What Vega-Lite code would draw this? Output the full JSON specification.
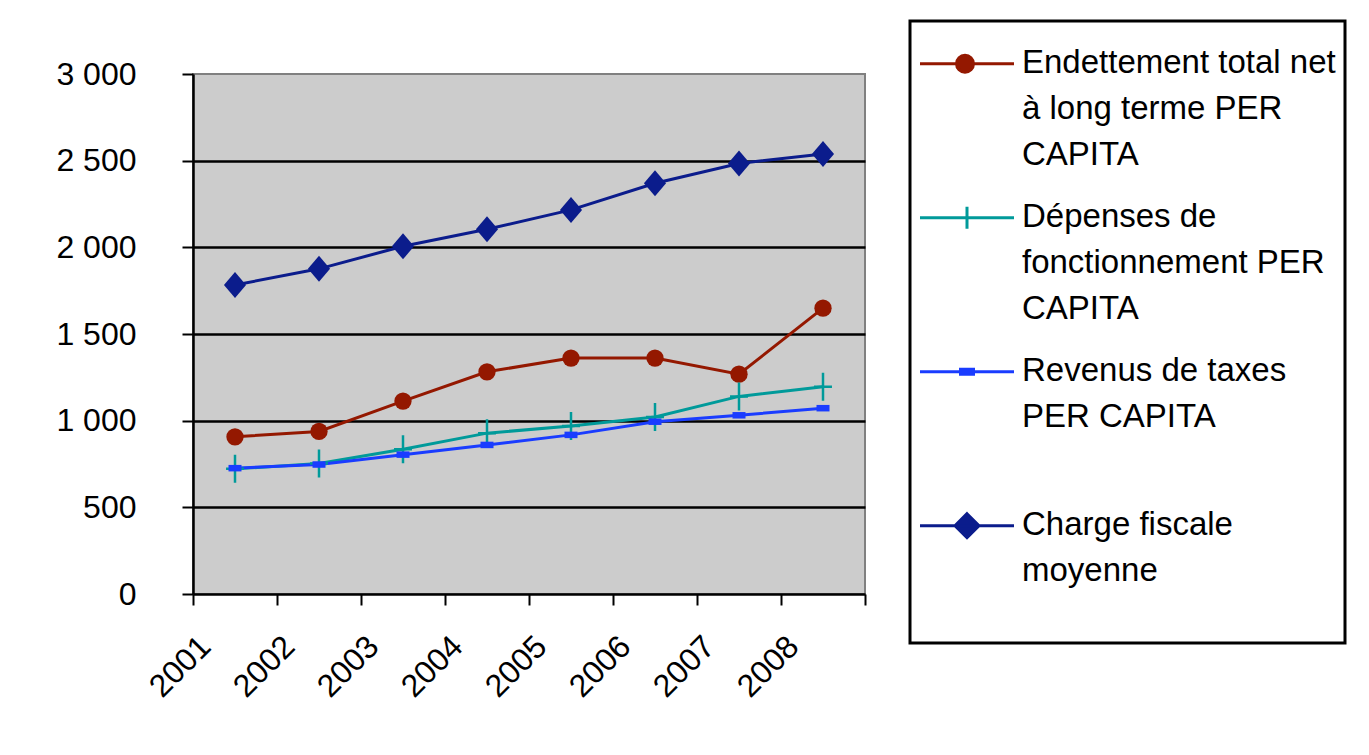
{
  "$schema": "https://vega.github.io/schema/vega-lite/v6.json",
  "width": 672,
  "height": 520,
  "autosize": "none",
  "padding": {"left": 193, "top": 74, "right": 504, "bottom": 161},
  "background": "white",
  "config": {
    "font": "Liberation Sans",
    "view": {"fill": "#cccccc", "stroke": "#808080", "strokeWidth": 2}
  },
  "data": {
    "values": [
      {"year": "2001", "series": "Endettement total net à long terme PER CAPITA", "value": 907},
      {"year": "2002", "series": "Endettement total net à long terme PER CAPITA", "value": 938},
      {"year": "2003", "series": "Endettement total net à long terme PER CAPITA", "value": 1113},
      {"year": "2004", "series": "Endettement total net à long terme PER CAPITA", "value": 1282},
      {"year": "2005", "series": "Endettement total net à long terme PER CAPITA", "value": 1361},
      {"year": "2006", "series": "Endettement total net à long terme PER CAPITA", "value": 1361},
      {"year": "2007", "series": "Endettement total net à long terme PER CAPITA", "value": 1268},
      {"year": "2008", "series": "Endettement total net à long terme PER CAPITA", "value": 1649},
      {"year": "2001", "series": "Dépenses de fonctionnement PER CAPITA", "value": 722},
      {"year": "2002", "series": "Dépenses de fonctionnement PER CAPITA", "value": 753},
      {"year": "2003", "series": "Dépenses de fonctionnement PER CAPITA", "value": 835},
      {"year": "2004", "series": "Dépenses de fonctionnement PER CAPITA", "value": 928},
      {"year": "2005", "series": "Dépenses de fonctionnement PER CAPITA", "value": 969},
      {"year": "2006", "series": "Dépenses de fonctionnement PER CAPITA", "value": 1021},
      {"year": "2007", "series": "Dépenses de fonctionnement PER CAPITA", "value": 1140},
      {"year": "2008", "series": "Dépenses de fonctionnement PER CAPITA", "value": 1196},
      {"year": "2001", "series": "Revenus de taxes PER CAPITA", "value": 726},
      {"year": "2002", "series": "Revenus de taxes PER CAPITA", "value": 747},
      {"year": "2003", "series": "Revenus de taxes PER CAPITA", "value": 804},
      {"year": "2004", "series": "Revenus de taxes PER CAPITA", "value": 860},
      {"year": "2005", "series": "Revenus de taxes PER CAPITA", "value": 918},
      {"year": "2006", "series": "Revenus de taxes PER CAPITA", "value": 994},
      {"year": "2007", "series": "Revenus de taxes PER CAPITA", "value": 1031},
      {"year": "2008", "series": "Revenus de taxes PER CAPITA", "value": 1072},
      {"year": "2001", "series": "Charge fiscale moyenne", "value": 1783},
      {"year": "2002", "series": "Charge fiscale moyenne", "value": 1876},
      {"year": "2003", "series": "Charge fiscale moyenne", "value": 2006},
      {"year": "2004", "series": "Charge fiscale moyenne", "value": 2104},
      {"year": "2005", "series": "Charge fiscale moyenne", "value": 2216},
      {"year": "2006", "series": "Charge fiscale moyenne", "value": 2370},
      {"year": "2007", "series": "Charge fiscale moyenne", "value": 2484},
      {"year": "2008", "series": "Charge fiscale moyenne", "value": 2539}
    ]
  },
  "encoding": {
    "x": {
      "field": "year",
      "type": "ordinal",
      "scale": {"type": "band", "paddingInner": 0, "paddingOuter": 0},
      "axis": {
        "title": null,
        "labelAngle": -45,
        "labelAlign": "right",
        "labelBaseline": "middle",
        "labelFont": "Liberation Sans",
        "labelFontSize": 32,
        "labelColor": "black",
        "labelPadding": 36,
        "labelOffset": -30,
        "tickBand": "extent",
        "tickSize": 11,
        "tickColor": "black",
        "tickWidth": 2,
        "domainColor": "black",
        "domainWidth": 2.5,
        "grid": false
      }
    },
    "y": {
      "field": "value",
      "type": "quantitative",
      "scale": {"domain": [0, 3000], "nice": false},
      "axis": {
        "title": null,
        "values": [0, 500, 1000, 1500, 2000, 2500, 3000],
        "labelExpr": "replace(format(datum.value, ','), ',', ' ')",
        "labelFont": "Liberation Sans",
        "labelFontSize": 32,
        "labelColor": "black",
        "labelPadding": 46,
        "tickSize": 11,
        "tickColor": "black",
        "tickWidth": 2,
        "domainColor": "black",
        "domainWidth": 2.5,
        "grid": true,
        "gridColor": {"condition": {"test": "datum.value >= 3000 || datum.value <= 0", "value": "transparent"}, "value": "black"},
        "gridWidth": 2.5
      }
    },
    "color": {
      "field": "series",
      "type": "nominal",
      "sort": ["Endettement total net à long terme PER CAPITA", "Dépenses de fonctionnement PER CAPITA", "Revenus de taxes PER CAPITA", "Charge fiscale moyenne"],
      "scale": {
        "domain": ["Endettement total net à long terme PER CAPITA", "Dépenses de fonctionnement PER CAPITA", "Revenus de taxes PER CAPITA", "Charge fiscale moyenne"],
        "range": ["#941800", "#009a9a", "#1a3cff", "#0b1c8c"]
      },
      "legend": {
        "orient": "none",
        "legendX": 717,
        "legendY": -53,
        "title": null,
        "fillColor": "white",
        "strokeColor": "black",
        "padding": 9,
        "symbolSize": 16,
        "symbolOffset": 31.5,
        "symbolStrokeWidth": 3,
        "labelFont": "Liberation Sans",
        "labelFontSize": 33,
        "labelColor": "black",
        "labelLimit": 500,
        "labelOffset": 38.5,
        "labelBaseline": "top",
        "rowPadding": 12,
        "labelExpr": "datum.value == 'Endettement total net à long terme PER CAPITA' ? ['Endettement total net', 'à long terme PER', 'CAPITA'] : datum.value == 'Dépenses de fonctionnement PER CAPITA' ? ['Dépenses de', 'fonctionnement PER', 'CAPITA'] : datum.value == 'Revenus de taxes PER CAPITA' ? ['Revenus de taxes', 'PER CAPITA', ''] : ['Charge fiscale', 'moyenne', '']",
        "encode": {
          "legend": {"update": {"strokeWidth": {"value": 3}}},
          "labels": {"update": {"lineHeight": {"value": 46}}},
          "symbols": {
            "update": {
              "shape": {"signal": "datum.value == 'Endettement total net à long terme PER CAPITA' ? 'M-23.5,8.6H23.5M-5.25,8.6A4.25,4.25 0 1,0 3.25,8.6A4.25,4.25 0 1,0 -5.25,8.6Z' : datum.value == 'Dépenses de fonctionnement PER CAPITA' ? 'M-23.5,8.6H23.5M0,3.1V14.1' : datum.value == 'Revenus de taxes PER CAPITA' ? 'M-23.5,8.6H23.5M-3.25,7.35H3.25V9.85H-3.25Z' : 'M-23.5,8.6H23.5M0,2.6L6,8.6L0,14.6L-6,8.6Z'"},
              "size": {"value": 16},
              "fill": {"signal": "scale('color', datum.value)"},
              "stroke": {"signal": "scale('color', datum.value)"},
              "strokeWidth": {"value": 3},
              "opacity": {"value": 1},
              "fillOpacity": {"value": 1},
              "strokeOpacity": {"value": 1}
            }
          }
        }
      }
    }
  },
  "layer": [
    {
      "mark": {"type": "line", "strokeWidth": 3}
    },
    {
      "transform": [{"filter": "datum.series == 'Endettement total net à long terme PER CAPITA'"}],
      "mark": {"type": "point", "shape": "circle", "size": 300, "filled": true, "opacity": 1}
    },
    {
      "transform": [{"filter": "datum.series == 'Dépenses de fonctionnement PER CAPITA'"}],
      "mark": {"type": "point", "shape": "M0,-1V1M-0.64,0H0.64", "size": 784, "filled": false, "opacity": 1, "strokeWidth": 2.5}
    },
    {
      "transform": [{"filter": "datum.series == 'Revenus de taxes PER CAPITA'"}],
      "mark": {"type": "point", "shape": "M-1,-0.5H1V0.5H-1Z", "size": 169, "filled": true, "opacity": 1}
    },
    {
      "transform": [{"filter": "datum.series == 'Charge fiscale moyenne'"}],
      "mark": {"type": "point", "shape": "M0,-1L0.85,0L0,1L-0.85,0Z", "size": 676, "filled": true, "opacity": 1}
    }
  ]
}
